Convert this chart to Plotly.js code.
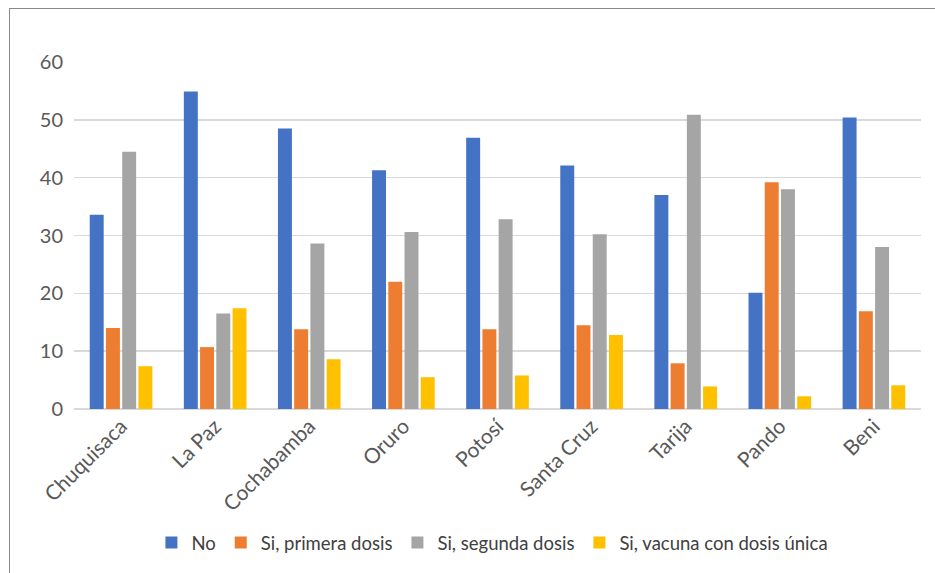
<!DOCTYPE html>
<html>
<head>
<meta charset="utf-8">
<script src="https://cdn.plot.ly/plotly-3.0.1.min.js"></script>
<style>
  html, body { margin: 0; padding: 0; background: #fff; }
  #frame { position: absolute; left: 9px; top: 8px; width: 940px; height: 580px;
           border-left: 1px solid #8a8a8a; border-top: 1px solid #8a8a8a; pointer-events: none; }
  #chart { position: absolute; left: 0; top: 0; width: 935px; height: 573px; }
</style>
</head>
<body>
<div id="chart"></div>
<div id="frame"></div>
<script>
const categories = ["Chuquisaca", "La Paz", "Cochabamba", "Oruro", "Potosí", "Santa Cruz", "Tarija", "Pando", "Beni"];
const seriesNames = ["No", "Si, primera dosis", "Si, segunda dosis", "Si, vacuna con dosis única"];
const valuesNo        = [33.6, 54.9, 48.5, 41.3, 46.9, 42.1, 37.0, 20.1, 50.4];
const valuesPrimera   = [14.0, 10.7, 13.8, 22.0, 13.8, 14.5, 7.9, 39.2, 16.9];
const valuesSegunda   = [44.5, 16.5, 28.6, 30.6, 32.8, 30.2, 50.9, 38.0, 28.0];
const valuesUnica     = [7.4, 17.4, 8.6, 5.5, 5.8, 12.8, 3.9, 2.2, 4.1];
const colors = ["#4472C4", "#ED7D31", "#A5A5A5", "#FFC000"];
const yTicks = [0, 10, 20, 30, 40, 50, 60];

const allValues = [valuesNo, valuesPrimera, valuesSegunda, valuesUnica];
const data = allValues.map((vals, i) => ({
  type: "bar",
  name: seriesNames[i],
  x: categories,
  y: vals,
  marker: { color: colors[i], line: { width: 0 } },
  hoverinfo: "x+y+name"
}));

const font = "Lato, 'Open Sans', sans-serif";
const layout = {
  width: 935, height: 573,
  margin: { l: 74, r: 14, t: 62, b: 163 },
  paper_bgcolor: "#ffffff",
  plot_bgcolor: "#ffffff",
  barmode: "group",
  bargap: 0.31,
  bargroupgap: 0.14,
  showlegend: true,
  legend: {
    orientation: "h",
    x: 0.494, xanchor: "center",
    y: -0.382, yanchor: "middle",
    font: { family: font, size: 18.5, color: "#404040" },
    itemwidth: 12,
    traceorder: "normal"
  },
  xaxis: {
    type: "category",
    tickangle: -45,
    tickfont: { family: font, size: 21, color: "#595959" },
    showgrid: false,
    showline: false,
    ticks: "",
    zeroline: false
  },
  yaxis: {
    range: [0, 60],
    tickvals: yTicks,
    ticktext: yTicks.map(String),
    tickfont: { family: font, size: 20, color: "#595959" },
    showgrid: true,
    gridcolor: "#d9d9d9",
    gridwidth: 1.5,
    zeroline: true,
    zerolinecolor: "#d9d9d9",
    zerolinewidth: 1.5,
    showline: false,
    ticks: "",
    ticklabelstandoff: 10
  }
};

Plotly.newPlot("chart", data, layout, { displayModeBar: false, staticPlot: true });
</script>
</body>
</html>
